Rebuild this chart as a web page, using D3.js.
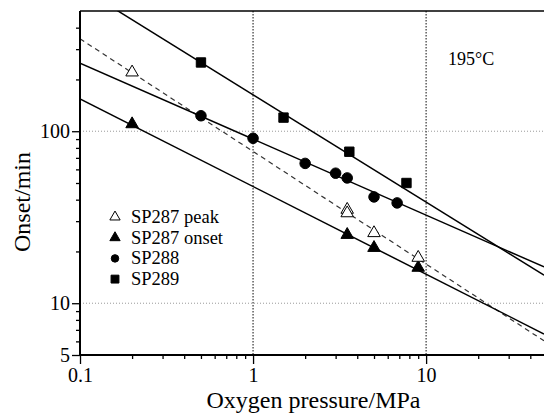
<!DOCTYPE html>
<html>
<head>
<meta charset="utf-8">
<script src="https://cdn.jsdelivr.net/npm/d3@7"></script>
<style>
  body { margin: 0; background: #fff; }
  text { font-family: "Liberation Serif", "Times New Roman", serif; fill: #000; }
</style>
</head>
<body>
<svg id="chart" width="544" height="415"></svg>
<script>
// series names (legend order)
var seriesNames = ['SP287 peak', 'SP287 onset', 'SP288', 'SP289'];

var peakX  = [0.2, 3.5, 3.5, 5, 9];
var peakY  = [220, 35, 33.4, 25.6, 18.4];
var onsetX = [0.2, 3.5, 5, 9];
var onsetY = [110, 25, 21, 16.1];
var sp288X = [0.5, 1, 2, 3, 3.5, 5, 6.8];
var sp288Y = [123, 91, 65, 57, 53.5, 41.5, 38.3];
var sp289X = [0.5, 1.5, 3.6, 7.7];
var sp289Y = [251, 120, 76, 50];

// power law fits y = a * x^b, same order as seriesNames
var fitA = [76.3, 47.7, 90, 163];
var fitB = [-0.655, -0.51, -0.442, -0.624];

// ticks
var xMajor = [0.1, 1, 10];
var xMinor = [0.2, 0.3, 0.4, 0.5, 0.6, 0.7, 0.8, 0.9, 2, 3, 4, 5, 6, 7, 8, 9, 20, 30, 40];
var yMajor = [5, 10, 100];
var yMinor = [6, 7, 8, 9, 20, 30, 40, 50, 60, 70, 80, 90, 200, 300, 400];
var xGrid = [1, 10];
var yGrid = [10, 100];

function draw() {
  var pl = 80, pr = 544, pt = 11, pb = 355;
  var xs = d3.scaleLog().domain([0.1, 48]).range([pl, pr]);
  var ys = d3.scaleLog().domain([5, 500]).range([pb, pt]);

  var svg = d3.select('#chart');

  svg.append('clipPath').attr('id', 'plotclip')
    .append('rect').attr('x', pl).attr('y', pt)
    .attr('width', pr - pl).attr('height', pb - pt);

  // grid
  svg.append('g').selectAll('line').data(yGrid).enter().append('line')
    .attr('x1', pl).attr('x2', pr)
    .attr('y1', d => ys(d)).attr('y2', d => ys(d))
    .attr('stroke', '#999').attr('stroke-width', 1).attr('stroke-dasharray', '1,2');
  svg.append('g').selectAll('line').data(xGrid).enter().append('line')
    .attr('x1', d => xs(d)).attr('x2', d => xs(d))
    .attr('y1', pt).attr('y2', pb)
    .attr('stroke', '#333').attr('stroke-width', 1.2).attr('stroke-dasharray', '1.5,1.5');

  // fit lines
  var fitLines = svg.append('g').attr('clip-path', 'url(#plotclip)');
  seriesNames.forEach(function(name, i) {
    var pts = xs.domain().map(x => [xs(x), ys(fitA[i] * Math.pow(x, fitB[i]))]);
    fitLines.append('path')
      .attr('d', d3.line()(pts))
      .attr('fill', 'none')
      .attr('stroke', i == 0 ? '#333' : '#000')
      .attr('stroke-width', i == 0 ? 1.2 : 1.5)
      .attr('stroke-dasharray', i == 0 ? '5,4' : null);
  });

  // markers
  var shapes = [d3.symbolTriangle, d3.symbolTriangle, d3.symbolCircle, d3.symbolSquare];
  var fills = ['#fff', '#000', '#000', '#000'];
  var sizes = [68, 68, 87, 88];
  var xsets = [peakX, onsetX, sp288X, sp289X];
  var ysets = [peakY, onsetY, sp288Y, sp289Y];

  for (var i = 3; i >= 0; i--) {
    var pts = xsets[i].map((x, j) => [x, ysets[i][j]]);
    svg.append('g').selectAll('path').data(pts).enter().append('path')
      .attr('d', d3.symbol().type(shapes[i]).size(sizes[i]))
      .attr('transform', d => 'translate(' + xs(d[0]) + ',' + ys(d[1]) + ')')
      .attr('fill', fills[i])
      .attr('stroke', '#000')
      .attr('stroke-width', 1);
  }

  // axes
  svg.append('g').attr('transform', 'translate(0,' + pb + ')')
    .call(d3.axisBottom(xs).tickValues(xMajor).tickSize(9).tickPadding(4).tickFormat(d => d));
  svg.append('g').attr('transform', 'translate(0,' + pb + ')')
    .call(d3.axisBottom(xs).tickValues(xMinor).tickSize(4).tickFormat(''));
  svg.append('g').attr('transform', 'translate(' + pl + ',0)')
    .call(d3.axisLeft(ys).tickValues(yMajor).tickSize(8).tickPadding(2).tickFormat(d => d));
  svg.append('g').attr('transform', 'translate(' + pl + ',0)')
    .call(d3.axisLeft(ys).tickValues(yMinor).tickSize(4).tickFormat(''));

  svg.selectAll('.domain').remove();
  svg.selectAll('.tick line').attr('stroke', '#000').attr('stroke-width', 1.3);
  svg.selectAll('.tick text')
    .style('font-family', '"Liberation Serif", serif')
    .attr('font-size', 20).attr('fill', '#000');

  // frame lines
  svg.append('line').attr('x1', pl).attr('x2', pr).attr('y1', pb).attr('y2', pb)
    .attr('stroke', '#000').attr('stroke-width', 2);
  svg.append('line').attr('x1', pl).attr('x2', pr).attr('y1', pt).attr('y2', pt)
    .attr('stroke', '#000').attr('stroke-width', 1.5);
  svg.append('line').attr('x1', pl).attr('x2', pl).attr('y1', pt).attr('y2', pb)
    .attr('stroke', '#000').attr('stroke-width', 2);

  // axis titles
  svg.append('text')
    .attr('x', (pl + 547) / 2).attr('y', 408)
    .attr('text-anchor', 'middle').attr('font-size', 24)
    .text('Oxygen pressure/MPa');
  svg.append('text')
    .attr('transform', 'translate(30,202) rotate(-90)')
    .attr('text-anchor', 'middle').attr('font-size', 24)
    .text('Onset/min');

  // temperature note
  svg.append('text').attr('x', 448).attr('y', 65).attr('font-size', 18).text('195°C');

  // legend
  var legSizes = [46, 46, 44, 62];
  var legend = svg.append('g').selectAll('g').data(seriesNames).enter().append('g')
    .attr('transform', (d, i) => 'translate(115,' + (217 + i * 20.7) + ')');
  legend.append('path')
    .attr('d', (d, i) => d3.symbol().type(shapes[i]).size(legSizes[i])())
    .attr('fill', (d, i) => fills[i])
    .attr('stroke', '#000').attr('stroke-width', 1);
  legend.append('text')
    .attr('x', 16).attr('y', 6).attr('font-size', 18.5)
    .text(d => d);
}

draw();
</script>
</body>
</html>
